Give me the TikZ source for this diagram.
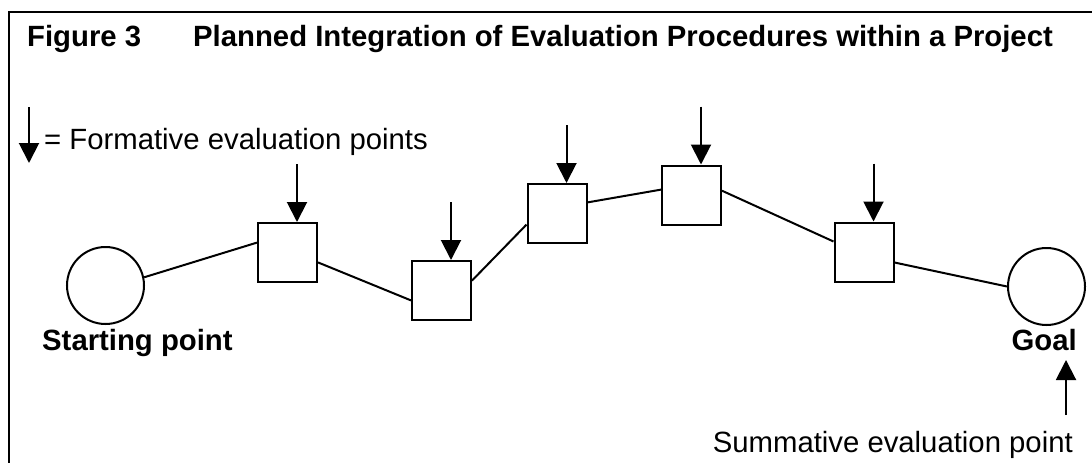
\documentclass[tikz,border=0pt]{standalone}
\usepackage{fontspec}
\setmainfont{Liberation Sans}
\usetikzlibrary{arrows.meta}
\begin{document}
\begin{tikzpicture}[x=1pt,y=-1pt,
  box/.style={draw,line width=2pt,rectangle,minimum size=59pt,inner sep=0pt},
  ends/.style={draw,line width=2pt,circle,minimum size=77pt,inner sep=0pt},
  link/.style={line width=2pt},
  evalarrow/.style={line width=2pt,-{Triangle[width=20pt,length=20pt]}},
  txt/.style={inner sep=0pt,font=\fontsize{29.3}{35}\selectfont},
  btxt/.style={inner sep=0pt,font=\fontsize{29.3}{35}\selectfont\bfseries},
]
\useasboundingbox (0,0) rectangle (1092,463);
% frame (cut at the right and bottom)
\draw[line width=2pt] (9,463) -- (9,12) -- (1092,12);
% title
\node[btxt,anchor=base west] (fig) at (27,46) {Figure 3};
\node[btxt,anchor=base west] (title) at (193,46) {Planned Integration of Evaluation Procedures within a Project};
% legend
\coordinate (legtop) at (29,107);
\coordinate (legtip) at (29,163);
\draw[evalarrow] (legtop) -- (legtip);
\node[txt,anchor=base west] (legend) at (44,149) {= Formative evaluation points};
% nodes
\node[ends] (start) at (105.5,285.5) {};
\node[ends] (goal) at (1046.5,286.5) {};
\node[box] (s1) at (287.5,252.5) {};
\node[box] (s2) at (441.5,290.5) {};
\node[box] (s3) at (557,213.5) {};
\node[box] (s4) at (691.5,195) {};
\node[box] (s5) at (864,252) {};
% labels
\node[btxt,anchor=base west] (startlbl) at (42,350) {Starting point};
\node[btxt,anchor=base east] (goallbl) at (1077,350) {Goal};
\node[txt,anchor=base east] (summlbl) at (1073,452) {Summative evaluation point};
% path
\draw[link] (start.12) -- (s1.162);
\draw[link] (s1.-18) -- (s2.198);
\draw[link] (s2.18) -- (s3.200);
\draw[link] (s3.20) -- (s4.170);
\draw[link] (s4.8) -- (s5.161);
\draw[link] (s5.-19) -- (goal.west);
% formative evaluation arrows
\foreach \s in {s1,s2,s3,s4,s5}{
  \coordinate (\s tip) at ([xshift=9.5pt]\s.north);
  \coordinate (\s top) at ([xshift=9.5pt,yshift=58pt]\s.north);
  \draw[evalarrow] (\s top) -- (\s tip);
}
% summative evaluation arrow
\coordinate (sumfoot) at (1066,415);
\coordinate (sumtip) at (1066,360);
\draw[evalarrow] (sumfoot) -- (sumtip);
\end{tikzpicture}
\end{document}
